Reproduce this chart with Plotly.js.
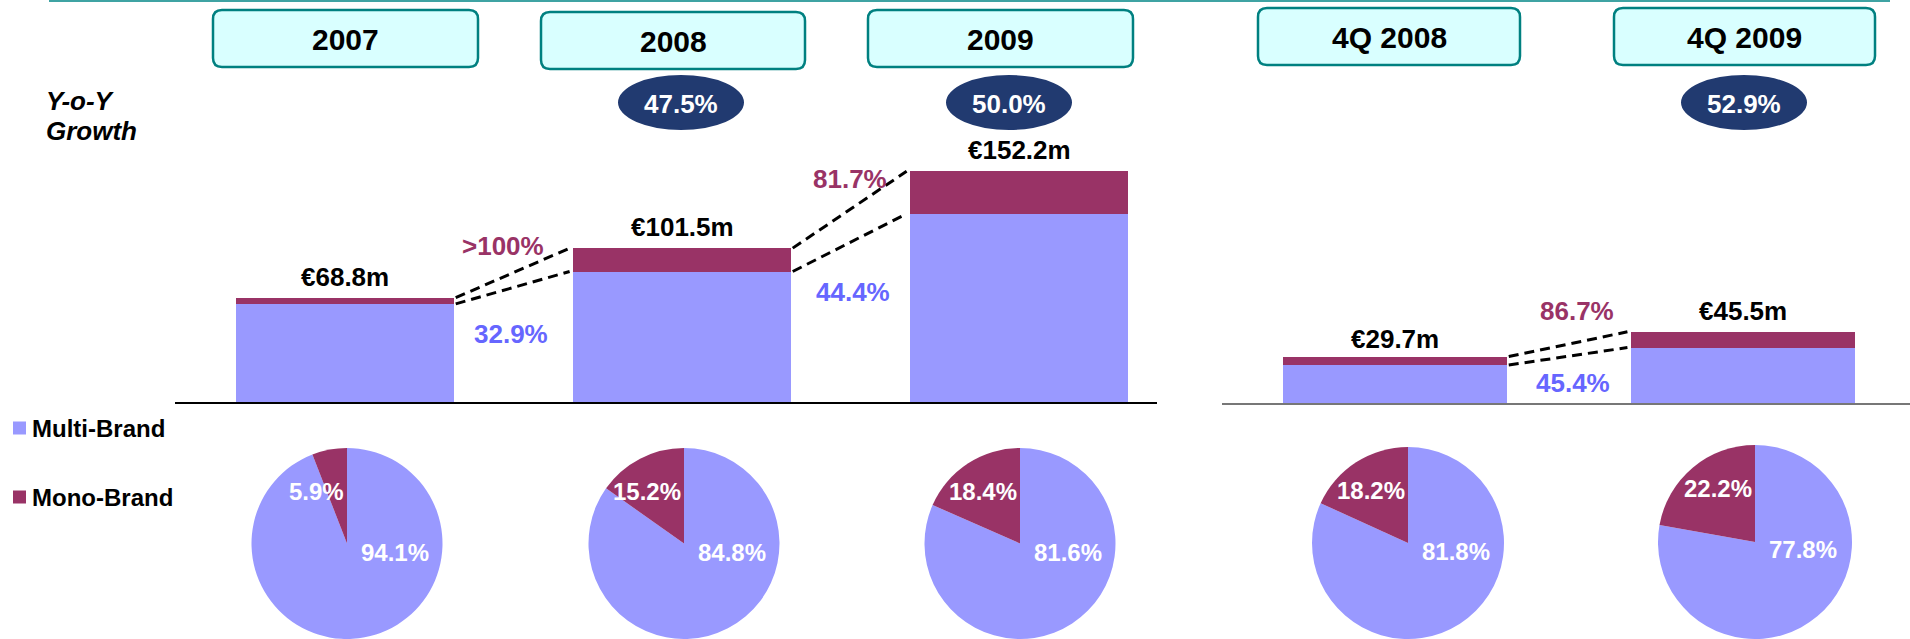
<!DOCTYPE html>
<html>
<head>
<meta charset="utf-8">
<script src="https://cdn.plot.ly/plotly-3.0.1.min.js"></script>
<style>html,body{margin:0;padding:0;background:#fff;}#chart{width:1910px;height:639px;}</style>
</head>
<body>
<div id="chart"></div>
<script>
// ---- data ----
const periods = ['2007', '2008', '2009'];
const annualTotal = [68.8, 101.5, 152.2];
const annualMultiShare = [94.1, 84.8, 81.6];
const annualMonoShare = [5.9, 15.2, 18.4];
const annualYoY = [null, '47.5%', '50.0%'];
const annualMultiGrowth = ['32.9%', '44.4%'];
const annualMonoGrowth = ['>100%', '81.7%'];

const quarters = ['4Q 2008', '4Q 2009'];
const quarterTotal = [29.7, 45.5];
const quarterMultiShare = [81.8, 77.8];
const quarterMonoShare = [18.2, 22.2];
const quarterYoY = [null, '52.9%'];
const quarterMultiGrowth = ['45.4%'];
const quarterMonoGrowth = ['86.7%'];

const seriesNames = ['Multi-Brand', 'Mono-Brand'];

// ---- styling / layout helpers ----
const W = 1910, H = 639;
const px = x => x / W, py = y => 1 - y / H;
const MULTI = '#9999ff', MONO = '#993366';
const FONT = 'Liberation Sans, Arial, sans-serif';

const aMulti = annualTotal.map((t, i) => t * annualMultiShare[i] / 100);
const aMono = annualTotal.map((t, i) => t * annualMonoShare[i] / 100);
const qMulti = quarterTotal.map((t, i) => t * quarterMultiShare[i] / 100);
const qMono = quarterTotal.map((t, i) => t * quarterMonoShare[i] / 100);

const wA = 0.647, wQ = 0.644;
const xA = periods.map((_, i) => i);
const xQ = quarters.map((_, i) => i);

const traces = [];
traces.push({type: 'bar', x: xA, y: aMulti, width: wA, marker: {color: MULTI}, xaxis: 'x', yaxis: 'y', hoverinfo: 'skip', showlegend: false, name: seriesNames[0]});
traces.push({type: 'bar', x: xA, y: aMono, width: wA, marker: {color: MONO}, xaxis: 'x', yaxis: 'y', hoverinfo: 'skip', showlegend: false, name: seriesNames[1]});
traces.push({type: 'bar', x: xQ, y: qMulti, width: wQ, marker: {color: MULTI}, xaxis: 'x2', yaxis: 'y2', hoverinfo: 'skip', showlegend: false, name: seriesNames[0]});
traces.push({type: 'bar', x: xQ, y: qMono, width: wQ, marker: {color: MONO}, xaxis: 'x2', yaxis: 'y2', hoverinfo: 'skip', showlegend: false, name: seriesNames[1]});

function connectors(total, multi, w, xa, ya) {
  for (let i = 0; i < total.length - 1; i++) {
    [total, multi].forEach(arr => {
      traces.push({type: 'scatter', mode: 'lines', x: [i + w / 2 + 0.005, i + 1 - w / 2 - 0.01], y: [arr[i], arr[i + 1]],
        line: {color: '#000', width: 3, dash: '10px,6px'}, xaxis: xa, yaxis: ya, hoverinfo: 'skip', showlegend: false});
    });
  }
}
connectors(annualTotal, aMulti, wA, 'x', 'y');
connectors(quarterTotal, qMulti, wQ, 'x2', 'y2');

// pies (multi first, clockwise from 12 o'clock -> mono slice ends at 12 o'clock on the left)
const pieCenters = [[347, 544], [684, 544], [1020, 544], [1408, 543], [1755, 541]];
const pieMono = annualMonoShare.concat(quarterMonoShare);
const pieMulti = annualMultiShare.concat(quarterMultiShare);
const R = 97;
pieCenters.forEach((c, i) => {
  traces.push({type: 'pie', values: [pieMulti[i], pieMono[i]], labels: [seriesNames[0], seriesNames[1]],
    marker: {colors: [MULTI, MONO], line: {width: 0}}, sort: false, direction: 'clockwise', rotation: 0,
    textinfo: 'none', hoverinfo: 'skip', showlegend: false,
    domain: {x: [px(c[0] - R), px(c[0] + R)], y: [0, py(c[1] - R + 1)]}});
});

const annotations = [];
const shapes = [];

// top line
shapes.push({type: 'line', xref: 'paper', yref: 'paper', x0: px(49), x1: px(1890), y0: py(1), y1: py(1), line: {color: '#3fa3a3', width: 2}});

// header boxes
function rrect(x0, y0, x1, y1, r) {
  const X = v => px(v).toFixed(5), Y = v => py(v).toFixed(5);
  return `M${X(x0 + r)},${Y(y0)} L${X(x1 - r)},${Y(y0)} Q${X(x1)},${Y(y0)} ${X(x1)},${Y(y0 + r)} ` +
    `L${X(x1)},${Y(y1 - r)} Q${X(x1)},${Y(y1)} ${X(x1 - r)},${Y(y1)} L${X(x0 + r)},${Y(y1)} ` +
    `Q${X(x0)},${Y(y1)} ${X(x0)},${Y(y1 - r)} L${X(x0)},${Y(y0 + r)} Q${X(x0)},${Y(y0)} ${X(x0 + r)},${Y(y0)} Z`;
}
const headerLabels = periods.concat(quarters);
const headerBoxes = [[213, 10, 478, 67], [541, 12, 805, 69], [868, 10, 1133, 67], [1258, 8, 1520, 65], [1614, 8, 1875, 65]];
headerBoxes.forEach((b, i) => {
  shapes.push({type: 'path', xref: 'paper', yref: 'paper', path: rrect(b[0], b[1], b[2], b[3], 9),
    fillcolor: '#d9ffff', line: {color: '#008080', width: 2.5}});
  annotations.push({xref: 'paper', yref: 'paper', x: px((b[0] + b[2]) / 2), y: py((b[1] + b[3]) / 2 + 1),
    xanchor: 'center', yanchor: 'middle', showarrow: false, text: '<b>' + headerLabels[i] + '</b>',
    font: {family: FONT, size: 30, color: '#000'}});
});

// YoY ellipses
const yoyLabels = annualYoY.concat(quarterYoY);
const ellipseCenters = [null, [681, 102.5], [1009, 102.5], null, [1744, 102.5]];
yoyLabels.forEach((t, i) => {
  if (!t) return;
  const c = ellipseCenters[i];
  shapes.push({type: 'circle', xref: 'paper', yref: 'paper', x0: px(c[0] - 63), x1: px(c[0] + 63),
    y0: py(c[1] - 27.5), y1: py(c[1] + 27.5), fillcolor: '#213a70', line: {width: 0}});
  annotations.push({xref: 'paper', yref: 'paper', x: px(c[0]), y: py(c[1] + 1), xanchor: 'center', yanchor: 'middle',
    showarrow: false, text: '<b>' + t + '</b>', font: {family: FONT, size: 26, color: '#fff'}});
});

annotations.push({xref: 'paper', yref: 'paper', x: px(44), y: py(101), xanchor: 'left', yanchor: 'middle', showarrow: false,
  text: '<b><i>Y-o-Y</i></b>', font: {family: FONT, size: 26, color: '#000'}});
annotations.push({xref: 'paper', yref: 'paper', x: px(44), y: py(131), xanchor: 'left', yanchor: 'middle', showarrow: false,
  text: '<b><i>Growth</i></b>', font: {family: FONT, size: 26, color: '#000'}});

// value labels above bars
annualTotal.forEach((t, i) => annotations.push({xref: 'x', yref: 'y', x: i, y: t, yanchor: 'bottom', yshift: 4, showarrow: false,
  text: '<b>€' + t.toFixed(1) + 'm</b>', font: {family: FONT, size: 26, color: '#000'}}));
quarterTotal.forEach((t, i) => annotations.push({xref: 'x2', yref: 'y2', x: i, y: t, yanchor: 'bottom', yshift: i === 0 ? 1 : 4, showarrow: false,
  text: '<b>€' + t.toFixed(1) + 'm</b>', font: {family: FONT, size: 26, color: '#000'}}));

// growth labels (pixel positions of label centres)
const growthText = [annualMonoGrowth[0], annualMultiGrowth[0], annualMonoGrowth[1], annualMultiGrowth[1], quarterMonoGrowth[0], quarterMultiGrowth[0]];
const growthColor = [MONO, '#6666ff', MONO, '#6666ff', MONO, '#6666ff'];
const growthPos = [[503, 246], [511, 334], [850, 179], [853, 292], [1577, 311], [1573, 383]];
growthText.forEach((t, i) => annotations.push({xref: 'paper', yref: 'paper', x: px(growthPos[i][0]), y: py(growthPos[i][1]),
  xanchor: 'center', yanchor: 'middle', showarrow: false, text: '<b>' + t + '</b>', font: {family: FONT, size: 26, color: growthColor[i]}}));

// pie labels
pieCenters.forEach((c, i) => {
  annotations.push({xref: 'paper', yref: 'paper', x: px(c[0] - 1), y: py(c[1] - 53), xanchor: 'right', yanchor: 'middle', showarrow: false,
    text: '<b>' + pieMono[i].toFixed(1) + '%</b>', font: {family: FONT, size: 24, color: '#fff'}});
  annotations.push({xref: 'paper', yref: 'paper', x: px(c[0] + 12), y: py(c[1] + 8), xanchor: 'left', yanchor: 'middle', showarrow: false,
    text: '<b>' + pieMulti[i].toFixed(1) + '%</b>', font: {family: FONT, size: 24, color: '#fff'}});
});

// legend
const legendItems = [[seriesNames[0], MULTI, 428], [seriesNames[1], MONO, 497]];
legendItems.forEach(l => {
  shapes.push({type: 'rect', xref: 'paper', yref: 'paper', x0: px(13), x1: px(26), y0: py(l[2] - 6.5), y1: py(l[2] + 6.5), fillcolor: l[1], line: {width: 0}});
  annotations.push({xref: 'paper', yref: 'paper', x: px(30), y: py(l[2]), xanchor: 'left', yanchor: 'middle', showarrow: false,
    text: '<b>' + l[0] + '</b>', font: {family: FONT, size: 24, color: '#000'}});
});

const hiddenY = {showgrid: false, zeroline: false, showticklabels: false, showline: false, ticks: '', fixedrange: true};
const layout = {
  width: W, height: H, margin: {l: 0, r: 0, t: 0, b: 0}, paper_bgcolor: '#fff', plot_bgcolor: 'rgba(0,0,0,0)',
  barmode: 'stack', showlegend: false, font: {family: FONT},
  xaxis: {domain: [px(175), px(1157)], range: [-0.5045, 2.4095], showgrid: false, zeroline: false, showticklabels: false, ticks: '', showline: true, linecolor: '#000', linewidth: 1.5, fixedrange: true},
  yaxis: Object.assign({domain: [py(402), py(60)], range: [0, (402 - 60) / 1.516]}, hiddenY),
  xaxis2: {domain: [px(1222), 1], range: [-0.497, 1.48], anchor: 'y2', showgrid: false, zeroline: false, showticklabels: false, ticks: '', showline: true, linecolor: '#777', linewidth: 2, fixedrange: true},
  yaxis2: Object.assign({domain: [py(403), py(60)], range: [0, (403 - 60) / 1.565], anchor: 'x2'}, hiddenY),
  shapes: shapes, annotations: annotations
};
Plotly.newPlot('chart', traces, layout, {displayModeBar: false, staticPlot: true});
</script>
</body>
</html>
